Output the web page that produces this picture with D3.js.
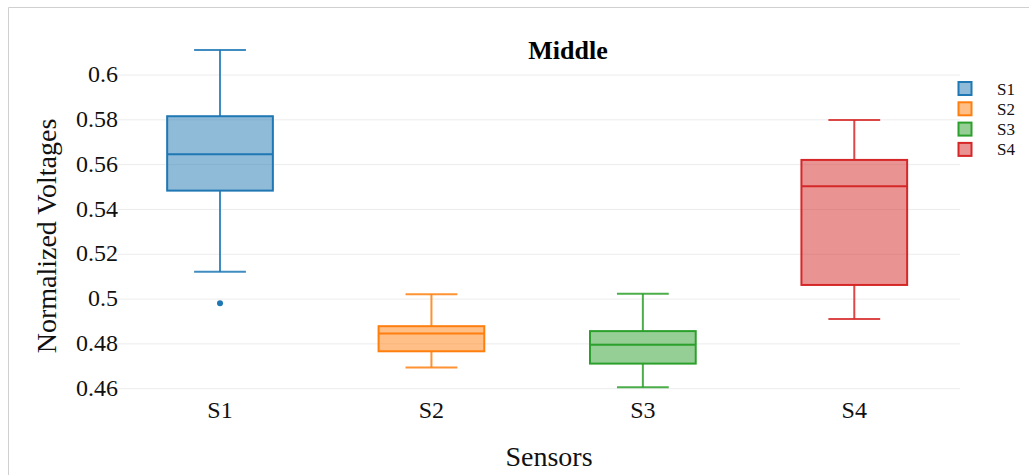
<!DOCTYPE html>
<html>
<head>
<meta charset="utf-8">
<script src="https://cdn.jsdelivr.net/npm/d3@7/dist/d3.min.js"></script>
<style>
  html, body { margin: 0; padding: 0; background: #fff; }
  svg { display: block; font-family: "Liberation Serif", "Times New Roman", serif; }
</style>
</head>
<body>
<svg id="chart" width="1029" height="475"></svg>
<script>
// Sensor categories and colours
const sensors = ["S1", "S2", "S3", "S4"];
const colors = ["#1f77b4", "#ff7f0e", "#2ca02c", "#d62728"];

// Box statistics per sensor (normalized voltage)
const lowerFence = [0.5122, 0.4695, 0.4606, 0.4911];
const q1 = [0.5484, 0.4767, 0.4712, 0.5063];
const median = [0.5646, 0.4846, 0.4796, 0.5503];
const q3 = [0.5816, 0.4879, 0.4857, 0.5621];
const upperFence = [0.6112, 0.5021, 0.5024, 0.5799];
const outliers = [[0.4981], [], [], []];

// Axis ticks
const yTicks = [0.46, 0.48, 0.5, 0.52, 0.54, 0.56, 0.58, 0.6];
const yTickLabels = ["0.46", "0.48", "0.5", "0.52", "0.54", "0.56", "0.58", "0.6"];

const svg = d3.select("#chart");

// Figure frame
svg.append("line").attr("x1", 8.5).attr("x2", 1029).attr("y1", 7.5).attr("y2", 7.5)
  .attr("stroke", "#d0d0d0").attr("stroke-width", 1);
svg.append("line").attr("x1", 8.5).attr("x2", 8.5).attr("y1", 7.5).attr("y2", 475)
  .attr("stroke", "#d0d0d0").attr("stroke-width", 1);

const x = d3.scaleBand().domain(sensors).range([114.3, 960]).padding(0);
const y = d3.scaleLinear().domain([0.46, 0.6]).range([388.7, 75]);

// Horizontal grid
svg.append("g").selectAll("line").data(yTicks).join("line")
  .attr("x1", 118).attr("x2", 960)
  .attr("y1", d => y(d)).attr("y2", d => y(d))
  .attr("stroke", "#ececec").attr("stroke-width", 1);

// Y axis labels
const yAxis = d3.axisLeft(y).tickValues(yTicks)
  .tickFormat((d, i) => yTickLabels[i]).tickSize(0).tickPadding(0);
const gy = svg.append("g").attr("transform", "translate(118,0)").call(yAxis);
gy.select(".domain").remove();
gy.selectAll("text").attr("font-family", "Liberation Serif, serif")
  .attr("font-size", 24).attr("fill", "#111").attr("dy", "0.28em");

// X axis labels
const xAxis = d3.axisBottom(x).tickSize(0).tickPadding(0);
const gx = svg.append("g").attr("transform", "translate(0,400)").call(xAxis);
gx.select(".domain").remove();
gx.selectAll("text").attr("font-family", "Liberation Serif, serif")
  .attr("font-size", 24).attr("fill", "#111").attr("dy", "0.75em");

// Boxes
const boxW = x.bandwidth() * 0.5;
const capW = boxW * 0.49;
const boxes = svg.append("g").selectAll("g").data(sensors).join("g");

boxes.each(function (s, i) {
  const g = d3.select(this);
  const cx = x(s) + x.bandwidth() / 2;
  const c = colors[i];
  // whiskers
  g.append("line").attr("x1", cx).attr("x2", cx)
    .attr("y1", y(q3[i])).attr("y2", y(upperFence[i]))
    .attr("stroke", c).attr("stroke-width", 2).attr("stroke-opacity", 0.85);
  g.append("line").attr("x1", cx).attr("x2", cx)
    .attr("y1", y(q1[i])).attr("y2", y(lowerFence[i]))
    .attr("stroke", c).attr("stroke-width", 2).attr("stroke-opacity", 0.85);
  g.append("line").attr("x1", cx - capW / 2).attr("x2", cx + capW / 2)
    .attr("y1", y(upperFence[i])).attr("y2", y(upperFence[i]))
    .attr("stroke", c).attr("stroke-width", 2).attr("stroke-opacity", 0.85);
  g.append("line").attr("x1", cx - capW / 2).attr("x2", cx + capW / 2)
    .attr("y1", y(lowerFence[i])).attr("y2", y(lowerFence[i]))
    .attr("stroke", c).attr("stroke-width", 2).attr("stroke-opacity", 0.85);
  // box
  g.append("rect").attr("x", cx - boxW / 2).attr("width", boxW)
    .attr("y", y(q3[i])).attr("height", y(q1[i]) - y(q3[i]))
    .attr("fill", c).attr("fill-opacity", 0.5)
    .attr("stroke", c).attr("stroke-width", 2);
  // median
  g.append("line").attr("x1", cx - boxW / 2).attr("x2", cx + boxW / 2)
    .attr("y1", y(median[i])).attr("y2", y(median[i]))
    .attr("stroke", c).attr("stroke-width", 2);
  // outliers
  g.selectAll("circle").data(outliers[i]).join("circle")
    .attr("cx", cx).attr("cy", d => y(d)).attr("r", 3).attr("fill", c);
});

// Title
svg.append("text").attr("x", 568).attr("y", 59).attr("text-anchor", "middle")
  .attr("font-size", 26).attr("font-weight", "bold").attr("fill", "#000").text("Middle");

// Axis titles
svg.append("text").attr("x", 549).attr("y", 465.5).attr("text-anchor", "middle")
  .attr("font-size", 28).attr("fill", "#111").text("Sensors");
svg.append("text").attr("transform", "translate(56,236) rotate(-90)")
  .attr("text-anchor", "middle").attr("font-size", 28).attr("fill", "#111")
  .text("Normalized Voltages");

// Legend
const legend = svg.append("g").selectAll("g").data(sensors).join("g")
  .attr("transform", (d, i) => `translate(965,${88.5 + i * 20.3})`);
legend.append("rect").attr("x", -6.5).attr("y", -6.5).attr("width", 13).attr("height", 13)
  .attr("fill", (d, i) => colors[i]).attr("fill-opacity", 0.5)
  .attr("stroke", (d, i) => colors[i]).attr("stroke-width", 2);
legend.append("text").attr("x", 32).attr("y", 6).attr("font-size", 17)
  .attr("fill", "#111").text(d => d);
</script>
</body>
</html>
